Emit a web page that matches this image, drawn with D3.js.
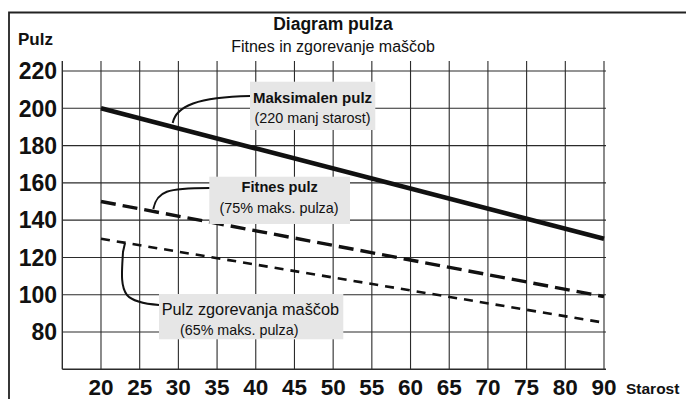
<!DOCTYPE html>
<html>
<head>
<meta charset="utf-8">
<script src="https://cdn.jsdelivr.net/npm/d3@7/dist/d3.min.js"></script>
<style>
  html, body { margin: 0; padding: 0; background: #fff; }
  svg { display: block; font-family: "Liberation Sans", Arial, sans-serif; }
</style>
</head>
<body>
<svg id="chart" width="686" height="399"></svg>
<script>
// Age categories on the x axis (85 is skipped, 90 follows 80)
const ages = ["20", "25", "30", "35", "40", "45", "50", "55", "60", "65", "70", "75", "80", "90"];
// Pulse tick labels on the y axis
const pulseTicks = [80, 100, 120, 140, 160, 180, 200, 220];

// Each series is drawn as a straight line between its youngest and oldest age
const seriesAges = ["20", "90"];
const maxPulse = [200, 130];      // 220 minus age
const fitnessPulse = [150, 99];   // 75% of max
const fatBurnPulse = [130, 85];   // 65% of max

const titleText = "Diagram pulza";
const subtitleText = "Fitnes in zgorevanje maščob";
const yLabel = "Pulz";
const xLabel = "Starost";

const svg = d3.select("#chart");

// x runs over category index; one empty step sits left of the first age
const x = d3.scaleLinear().domain([-1, ages.length - 1]).range([62.3, 604]);
const y = d3.scaleLinear().domain([60, 220]).range([369.3, 71]);
const xAge = a => x(ages.indexOf(a));

// outer frame (top and left edges)
svg.append("path")
  .attr("d", "M9,399 V12.5 H686")
  .attr("fill", "none").attr("stroke", "#222").attr("stroke-width", 1.8);

// titles
svg.append("text").attr("x", 333).attr("y", 30).attr("text-anchor", "middle")
  .attr("font-weight", "bold").attr("font-size", 17.5).attr("fill", "#111").text(titleText);
svg.append("text").attr("x", 333).attr("y", 51.5).attr("text-anchor", "middle")
  .attr("font-size", 16).attr("fill", "#111").text(subtitleText);
svg.append("text").attr("x", 18).attr("y", 45).attr("font-weight", "bold")
  .attr("font-size", 17).attr("fill", "#111").text(yLabel);

const grid = svg.append("g").attr("stroke", "#2b2b2b").attr("stroke-width", 1.1);

// horizontal grid lines
grid.selectAll("line.h").data(pulseTicks).join("line").attr("class", "h")
  .attr("x1", x(-1)).attr("x2", x(ages.length - 1) + 2)
  .attr("y1", d => y(d)).attr("y2", d => y(d));

// vertical grid lines, running a little above the top grid line
grid.selectAll("line.v").data(ages).join("line").attr("class", "v")
  .attr("x1", d => xAge(d)).attr("x2", d => xAge(d))
  .attr("y1", 61).attr("y2", y(60));

// axes lines
grid.append("line").attr("x1", x(-1)).attr("x2", x(-1)).attr("y1", 61).attr("y2", y(60))
  .attr("stroke-width", 1.4);
grid.append("line").attr("x1", x(-1)).attr("x2", x(ages.length - 1) + 2)
  .attr("y1", y(60)).attr("y2", y(60)).attr("stroke-width", 1.4);

// y tick labels
svg.append("g").selectAll("text").data(pulseTicks).join("text")
  .attr("x", 57).attr("y", d => y(d)).attr("dy", "0.36em")
  .attr("text-anchor", "end").attr("font-weight", "bold").attr("font-size", 23)
  .attr("fill", "#111").text(d => d);

// x tick labels
svg.append("g").selectAll("text").data(ages).join("text")
  .attr("x", d => xAge(d)).attr("y", 395)
  .attr("text-anchor", "middle").attr("font-weight", "bold").attr("font-size", 22.5)
  .attr("fill", "#111").text(d => d);

svg.append("text").attr("x", 626).attr("y", 394).attr("font-weight", "bold")
  .attr("font-size", 15.5).attr("fill", "#111").text(xLabel);

// series lines
const line = d3.line().x(d => xAge(d.age)).y(d => y(d.v));
const toPts = vals => seriesAges.map((a, i) => ({ age: a, v: vals[i] }));

svg.append("path").datum(toPts(maxPulse)).attr("d", line)
  .attr("fill", "none").attr("stroke", "#111").attr("stroke-width", 4.6);
svg.append("path").datum(toPts(fitnessPulse)).attr("d", line)
  .attr("fill", "none").attr("stroke", "#111").attr("stroke-width", 3.4)
  .attr("stroke-dasharray", "15,7");
svg.append("path").datum(toPts(fatBurnPulse)).attr("d", line)
  .attr("fill", "none").attr("stroke", "#111").attr("stroke-width", 2.6)
  .attr("stroke-dasharray", "9,7");

// label boxes
const boxFill = "#e6e6e6";
svg.append("rect").attr("x", 250).attr("y", 81.7).attr("width", 125.3).attr("height", 48.3).attr("fill", boxFill);
svg.append("rect").attr("x", 209.3).attr("y", 176.7).attr("width", 140.7).attr("height", 47.3).attr("fill", boxFill);
svg.append("rect").attr("x", 159).attr("y", 294).attr("width", 184.3).attr("height", 45.3).attr("fill", boxFill);

// leader curves from each line to its label
const leader = svg.append("g").attr("fill", "none").attr("stroke", "#111").attr("stroke-width", 2);
leader.append("path").attr("d", "M172.7,123 C176,106 198,97 250,96");
leader.append("path").attr("d", "M153.3,209 C157,191 167,188 209.3,188");
leader.append("path").attr("d", "M125,243 L123,252 C122,270 120,286 127,295 C133,302 145,304 159,305");

// label texts
const lab = svg.append("g").attr("fill", "#111");
lab.append("text").attr("x", 312.5).attr("y", 103.3).attr("text-anchor", "middle")
  .attr("font-weight", "bold").attr("font-size", 15).text("Maksimalen pulz");
lab.append("text").attr("x", 312.5).attr("y", 123).attr("text-anchor", "middle")
  .attr("font-size", 14.4).text("(220 manj starost)");
lab.append("text").attr("x", 279.7).attr("y", 191.7).attr("text-anchor", "middle")
  .attr("font-weight", "bold").attr("font-size", 14.6).text("Fitnes pulz");
lab.append("text").attr("x", 279).attr("y", 213.3).attr("text-anchor", "middle")
  .attr("font-size", 14.4).text("(75% maks. pulza)");
lab.append("text").attr("x", 161.7).attr("y", 315).attr("font-size", 16.3)
  .text("Pulz zgorevanja maščob");
lab.append("text").attr("x", 180).attr("y", 335).attr("font-size", 14.3)
  .text("(65% maks. pulza)");
</script>
</body>
</html>
